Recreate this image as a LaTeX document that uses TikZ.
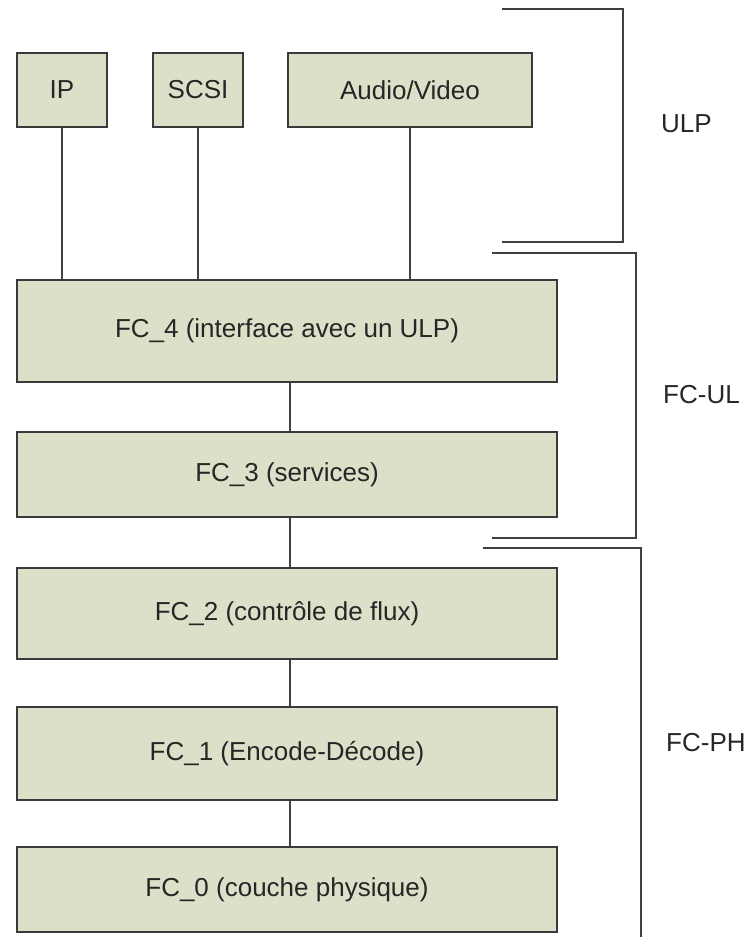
\documentclass[tikz,border=0pt]{standalone}
\usepackage{fontspec}
\setmainfont{Liberation Sans}
\usetikzlibrary{shadows}
\definecolor{boxfill}{HTML}{DCE0C9}
\definecolor{boxline}{HTML}{3A3A3A}
\definecolor{wire}{HTML}{404040}
\begin{document}
\begin{tikzpicture}[x=1pt,y=-1pt,
  layer/.style={draw=boxline, line width=1.8pt, fill=boxfill, inner sep=0pt,
    font=\fontsize{26}{30}\selectfont, text=black!85,
    drop shadow={shadow xshift=1.4pt, shadow yshift=-1.4pt, fill=black!45, opacity=1}},
  wireline/.style={draw=wire, line width=1.7pt},
  bracket/.style={draw=black!75, line width=2pt},
  side/.style={font=\fontsize{26}{30}\selectfont, text=black!85, inner sep=0pt, anchor=west}]
  \useasboundingbox (0,0) rectangle (749,937);

  % upper layer protocols
  \node[layer, minimum width=90pt, minimum height=74pt] (ip) at (62,90) {IP};
  \node[layer, minimum width=90pt, minimum height=74pt] (scsi) at (198,90) {SCSI};
  \node[layer, minimum width=244pt, minimum height=74pt] (av) at (410,90) {Audio/Video};

  % Fibre Channel levels
  \node[layer, minimum width=540pt, minimum height=102pt] (fc4) at (287,331) {FC\_4 (interface avec un ULP)};
  \node[layer, minimum width=540pt, minimum height=85pt] (fc3) at (287,474.5) {FC\_3 (services)};
  \node[layer, minimum width=540pt, minimum height=91pt] (fc2) at (287,613.5) {FC\_2 (contrôle de flux)};
  \node[layer, minimum width=540pt, minimum height=93pt] (fc1) at (287,753.5) {FC\_1 (Encode-Décode)};
  \node[layer, minimum width=540pt, minimum height=85pt] (fc0) at (287,889.5) {FC\_0 (couche physique)};

  % connectors
  \draw[wireline] (ip.south) -- (ip.south |- fc4.north);
  \draw[wireline] (scsi.south) -- (scsi.south |- fc4.north);
  \draw[wireline] (av.south) -- (av.south |- fc4.north);
  \draw[wireline] ([xshift=3pt]fc4.south) -- ([xshift=3pt]fc3.north);
  \draw[wireline] ([xshift=3pt]fc3.south) -- ([xshift=3pt]fc2.north);
  \draw[wireline] ([xshift=3pt]fc2.south) -- ([xshift=3pt]fc1.north);
  \draw[wireline] ([xshift=3pt]fc1.south) -- ([xshift=3pt]fc0.north);

  % grouping brackets
  \coordinate (ulpA) at (502,9);
  \coordinate (ulpB) at (623,9);
  \coordinate (ulpC) at (623,242);
  \coordinate (ulpD) at (502,242);
  \draw[bracket] (ulpA) -- (ulpB) -- (ulpC) -- (ulpD);
  \coordinate (ulA) at (492,253);
  \coordinate (ulB) at (636,253);
  \coordinate (ulC) at (636,538);
  \coordinate (ulD) at (492,538);
  \draw[bracket] (ulA) -- (ulB) -- (ulC) -- (ulD);
  \coordinate (phA) at (483,548);
  \coordinate (phB) at (641,548);
  \coordinate (phC) at (641,940);
  \draw[bracket] (phA) -- (phB) -- (phC);

  % group labels
  \node[side] (ulp) at (661,124) {ULP};
  \node[side] (fcul) at (663,395) {FC-UL};
  \node[side] (fcph) at (666,743) {FC-PH};
\end{tikzpicture}
\end{document}
